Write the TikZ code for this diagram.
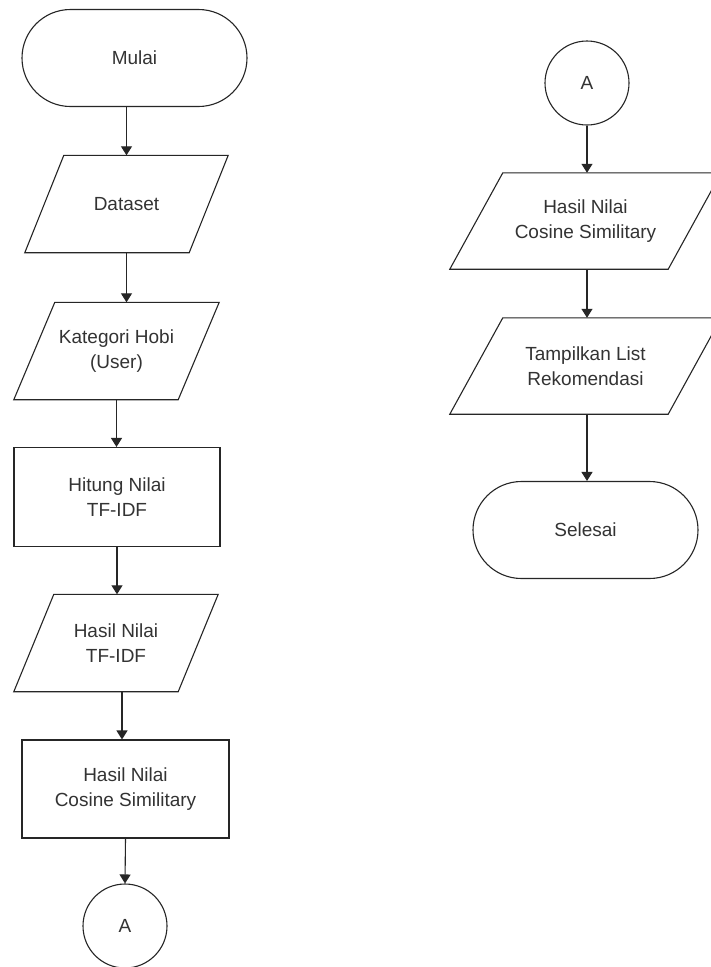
\documentclass[tikz,border=0pt]{standalone}
\usepackage{fontspec}
\setmainfont{Liberation Sans}
\usetikzlibrary{shapes.geometric,shapes.misc,arrows.meta}
\newcommand\drawpara[2]{\draw[base] ([xshift=-#2/2]#1.south west) -- ([xshift=-#2/2]#1.south east) -- ([xshift=#2/2]#1.north east) -- ([xshift=#2/2]#1.north west) -- cycle;}
\begin{document}
\begin{tikzpicture}[x=1pt,y=-1pt,
  every node/.style={font=\fontsize{19}{25}\selectfont, text=black!80, align=center, inner sep=0pt},
  base/.style={draw=black!85, line width=1.1pt},
  term/.style={base, rounded rectangle, minimum width=225pt, minimum height=97pt},
  ioL/.style={rectangle, minimum width=164pt, minimum height=97pt},
  ioR/.style={rectangle, minimum width=218pt, minimum height=96pt},
  proc/.style={base, rectangle, minimum width=206pt, minimum height=99pt},
  conn/.style={base, circle, minimum size=84pt},
  arr/.style={draw=black!85, line width=1.1pt, -{Triangle[width=11pt,length=9pt]}}
]
\useasboundingbox (0,0) rectangle (710,967);
\fill[white] (0,0) rectangle (710,967);

% left column
\node[term] (mulai) at (134.5,58) {Mulai};
\node[ioL] (dataset) at (126.5,204) {Dataset};
\node[ioL] (kategori) at (116.5,351) {Kategori Hobi\\(User)};
\node[proc] (hitung) at (117,497) {Hitung Nilai\\TF-IDF};
\node[ioL] (hasiltf) at (116,643) {Hasil Nilai\\TF-IDF};
\node[proc, minimum width=207pt, minimum height=98pt] (cosL) at (125.5,789) {Hasil Nilai\\Cosine Similitary};
\node[conn] (aL) at (125,926) {A};

% right column
\node[conn] (aR) at (587,83) {A};
\node[ioR] (cosR) at (585.5,221) {Hasil Nilai\\Cosine Similitary};
\node[ioR] (tampil) at (585.5,366) {Tampilkan List\\Rekomendasi};
\node[term] (selesai) at (585.5,530) {Selesai};

% parallelogram outlines
\drawpara{dataset}{39}
\drawpara{kategori}{41}
\drawpara{hasiltf}{40}
\drawpara{cosR}{53}
\drawpara{tampil}{53}

% connectors
\draw[arr] (mulai.south -| dataset.north) -- (dataset.north);
\draw[arr] (dataset.south) -- (dataset.south |- kategori.north);
\draw[arr] (kategori.south) -- (kategori.south |- hitung.north);
\draw[arr] (hitung.south) -- (hitung.south |- hasiltf.north);
\draw[arr] ([xshift=6pt]hasiltf.south) -- ([xshift=6pt]hasiltf.south |- cosL.north);
\draw[arr] (cosL.south) -- (aL.north);
\draw[arr] (aR.south) -- (aR.south |- cosR.north);
\draw[arr] (aR.south |- cosR.south) -- (aR.south |- tampil.north);
\draw[arr] (aR.south |- tampil.south) -- (aR.south |- selesai.north);
\end{tikzpicture}
\end{document}
